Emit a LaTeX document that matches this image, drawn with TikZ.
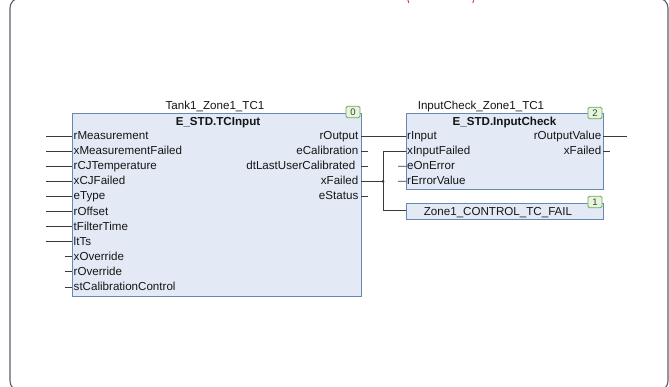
\documentclass[tikz,border=0pt]{standalone}
\usepackage{fontspec}
\setmainfont{Liberation Sans}
\definecolor{fbFill}{HTML}{E3EAF6}
\definecolor{fbBorder}{HTML}{6588B5}
\definecolor{bgFill}{HTML}{E8F4E0}
\definecolor{bgBorder}{HTML}{6FA856}
\definecolor{bgText}{HTML}{2F4A28}
\definecolor{wireCol}{HTML}{3A3A3A}
\definecolor{frameCol}{HTML}{55606A}
\definecolor{txt}{HTML}{151515}
\definecolor{redMark}{HTML}{E23A6E}
\newcommand{\pinfont}{\fontsize{11.6}{13}\selectfont}
\newcommand{\typefont}{\fontsize{11.6}{13}\selectfont\bfseries}
\begin{document}
\begin{tikzpicture}[x=1pt,y=-1pt,
  fb/.style={draw=fbBorder, fill=fbFill, line width=0.8pt, inner sep=0pt, anchor=north west},
  badge/.style={draw=bgBorder, fill=bgFill, rounded corners=1.5pt, line width=0.8pt, inner sep=0pt,
    minimum width=14pt, minimum height=11.5pt, font=\fontsize{9.5}{10}\selectfont, text=bgText},
  pin/.style={inner sep=0pt, font=\pinfont, text=txt, text height=8.3pt, text depth=0pt},
  tname/.style={pin, font=\typefont},
  wire/.style={draw=wireCol, line width=0.8pt},
  frame/.style={draw=frameCol, line width=1.1pt, rounded corners=10pt},
  dot/.style={circle, fill=wireCol, inner sep=0pt, minimum size=3pt}]
\useasboundingbox (0,0) rectangle (669,387);
\clip (0,0) rectangle (669,387);
% outer frame
\draw[frame] (10,-2) rectangle (668,391);
% clipped red marks at top
\draw[redMark, line width=1pt] (407.6,-1) .. controls (407.8,1) .. (408.8,3);
\draw[redMark, line width=1pt] (474,-1) .. controls (473.8,1) .. (472.8,3);

% ---------- Block 1: E_STD.TCInput ----------
\node[fb, minimum width=289pt, minimum height=183pt] (tc) at (72,113) {};
\node[pin] (tcname) at (215,105) {Tank1\_Zone1\_TC1};
\node[tname] (tctype) at (218,121) {E\_STD.TCInput};
\node[badge] (tcbadge) at (353,112) {0};
\foreach \t [count=\i from 0] in {rMeasurement,xMeasurementFailed,rCJTemperature,xCJFailed,eType,rOffset,tFilterTime,ltTs} {
  \node[pin, anchor=west] (tcin\i) at (73.5,{136+15.1*\i-0.6}) {\t};
  \coordinate (tcip\i) at (72,{136+15.1*\i});
  \coordinate (tcie\i) at (46,{136+15.1*\i});
  \draw[wire] (tcie\i) -- (tcip\i);
}
\foreach \t [count=\i from 8] in {xOverride,rOverride,stCalibrationControl} {
  \node[pin, anchor=west] (tcin\i) at (73.5,{136+15.1*\i-0.6}) {\t};
  \coordinate (tcip\i) at (72,{136+15.1*\i});
  \coordinate (tcie\i) at (65,{136+15.1*\i});
  \draw[wire] (tcie\i) -- (tcip\i);
}
% outputs
\node[pin, anchor=east] (tcout0) at (358.5,135.4) {rOutput};
\node[pin, anchor=east] (tcout1) at (358.5,150.5) {eCalibration};
\node[pin, anchor=east] (tcout2) at (355.5,165.6) {dtLastUserCalibrated};
\node[pin, anchor=east] (tcout3) at (358.5,180.7) {xFailed};
\node[pin, anchor=east] (tcout4) at (358.5,195.8) {eStatus};
\foreach \i/\y in {0/136,1/151.1,2/166.2,3/181.3,4/196.4} {
  \coordinate (tcop\i) at (361,\y);
}
\foreach \i/\y in {1/151.1,2/166.2,4/196.4} {
  \coordinate (tcoe\i) at (368,\y);
  \draw[wire] (tcop\i) -- (tcoe\i);
}

% ---------- Block 2: E_STD.InputCheck ----------
\node[fb, minimum width=197pt, minimum height=76pt] (ic) at (406,113) {};
\node[pin] (icname) at (481,105) {InputCheck\_Zone1\_TC1};
\node[tname] (ictype) at (504.5,121) {E\_STD.InputCheck};
\node[badge] (icbadge) at (595,113) {2};
\foreach \t [count=\i from 0] in {rInput,xInputFailed,eOnError,rErrorValue} {
  \node[pin, anchor=west] (icin\i) at (407,{136+15.1*\i-0.6}) {\t};
  \coordinate (icip\i) at (406,{136+15.1*\i});
}
\coordinate (icie2) at (398,166.2);
\coordinate (icie3) at (398,181.3);
\draw[wire] (icie2) -- (icip2);
\draw[wire] (icie3) -- (icip3);
\node[pin, anchor=east] (icout0) at (601.5,135.4) {rOutputValue};
\node[pin, anchor=east] (icout1) at (601.5,150.5) {xFailed};
\coordinate (icop0) at (603,136);
\coordinate (icop1) at (603,151.1);
\coordinate (icoe0) at (627,136);
\coordinate (icoe1) at (610,151.1);
\draw[wire] (icop0) -- (icoe0);
\draw[wire] (icop1) -- (icoe1);

% ---------- Output variable box ----------
\node[fb, minimum width=197pt, minimum height=16pt] (zone) at (406,203) {};
\node[pin] (zonetext) at (498,211) {Zone1\_CONTROL\_TC\_FAIL};
\node[badge] (zonebadge) at (595,202) {1};
\coordinate (zonein) at (406,210);

% ---------- connections ----------
\coordinate (jn) at (383,181.3);
\coordinate (jtop) at (383,151.1);
\coordinate (jbot) at (383,210);
\draw[wire] (tcop0) -- (icip0);
\draw[wire] (tcop3) -- (jn);
\draw[wire] (icip1) -- (jtop) -- (jbot) -- (zonein);
\node[dot] (jdot) at (jn) {};
\end{tikzpicture}
\end{document}
